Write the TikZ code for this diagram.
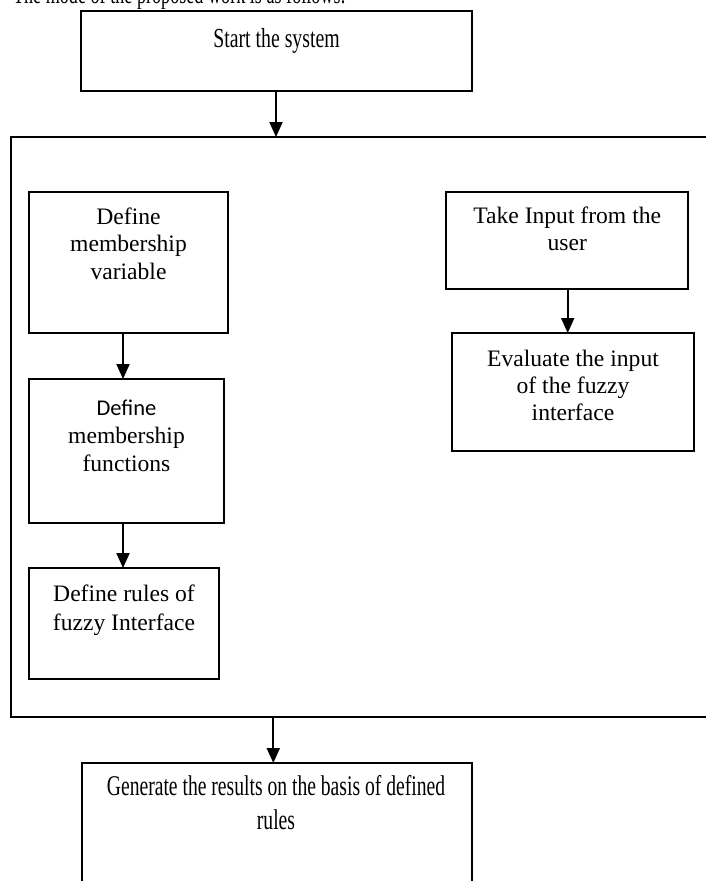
\documentclass[tikz,border=0pt]{standalone}
\usepackage{fontspec}
\setmainfont{Liberation Serif}
\newfontfamily\calibrifont{Carlito}
\usetikzlibrary{arrows.meta,calc}
\tikzset{
  boxnode/.style={draw, line width=2pt, inner sep=0pt, outer sep=0pt},
  arr/.style={line width=2pt, -{Triangle[length=15pt,width=13pt]}},
  txt/.style={anchor=base, inner sep=0pt, outer sep=0pt, font=\fontsize{23.6}{27.5}\selectfont},
  bigtxt/.style={anchor=base, inner sep=0pt, outer sep=0pt, font=\fontsize{27.5}{33}\selectfont},
}
\newcommand{\mlines}[1]{\begin{tabular}[t]{@{}c@{}}#1\end{tabular}}
\begin{document}
\begin{tikzpicture}[x=1pt,y=-1pt]
\useasboundingbox (0,0) rectangle (706,881);
\clip (0,0) rectangle (706,881);

% partially visible heading
\node[bigtxt, anchor=base west] (head) at (13,3.5) {\scalebox{0.66}[1]{The mode of the proposed work is as follows:}};

% boxes
\node[boxnode, minimum width=391pt, minimum height=80pt] (start) at (276.5,51) {};
\node[boxnode, minimum width=749pt, minimum height=580pt] (outer) at (385.5,427) {};
\node[boxnode, minimum width=199pt, minimum height=141pt] (dmv) at (128.5,262.5) {};
\node[boxnode, minimum width=195pt, minimum height=144pt] (dmf) at (126.5,451) {};
\node[boxnode, minimum width=190pt, minimum height=111pt] (dr) at (124,623.5) {};
\node[boxnode, minimum width=242pt, minimum height=97pt] (ti) at (567,240.5) {};
\node[boxnode, minimum width=242pt, minimum height=118pt] (ev) at (573,392) {};
\node[boxnode, minimum width=390pt, minimum height=170pt] (gen) at (277,848) {};

% texts
\node[bigtxt] (tstart) at (276.5,47) {\scalebox{0.72}[1]{Start the system}};
\node[txt] (tdmv) at (128.5,224.3) {\mlines{Define\\membership\\variable}};
\node[txt, font=\fontsize{23.6}{28}\selectfont] (tdmf) at (126.5,415) {\mlines{{\calibrifont\fontsize{22.5}{28}\selectfont Define}\\membership\\functions}};
\node[txt, font=\fontsize{23.6}{28.3}\selectfont] (tdr) at (124,601.7) {\mlines{Define rules of\\fuzzy Interface}};
\node[txt] (tti) at (567.2,223.3) {\mlines{Take Input from the\\user}};
\node[txt, font=\fontsize{23.6}{26.7}\selectfont] (tev) at (573,366.7) {\mlines{Evaluate the input\\of the fuzzy\\interface}};
\node[bigtxt, font=\fontsize{28.5}{34.3}\selectfont] (tgen) at (276,795) {\scalebox{0.688}[1]{\mlines{Generate the results on the basis of defined\\rules}}};

% connectors
\draw[arr] ([xshift=-0.5pt]start.south) -- ([xshift=-0.5pt]start.south |- outer.north);
\draw[arr] ([xshift=-5.5pt]dmv.south) -- ([xshift=-5.5pt]dmv.south |- dmf.north);
\draw[arr] ([xshift=-3.5pt]dmf.south) -- ([xshift=-3.5pt]dmf.south |- dr.north);
\draw[arr] ([xshift=0.7pt]ti.south) -- ([xshift=0.7pt]ti.south |- ev.north);
\draw[arr] ([xshift=-3.7pt]gen.north |- outer.south) -- ([xshift=-3.7pt]gen.north);
\end{tikzpicture}
\end{document}
